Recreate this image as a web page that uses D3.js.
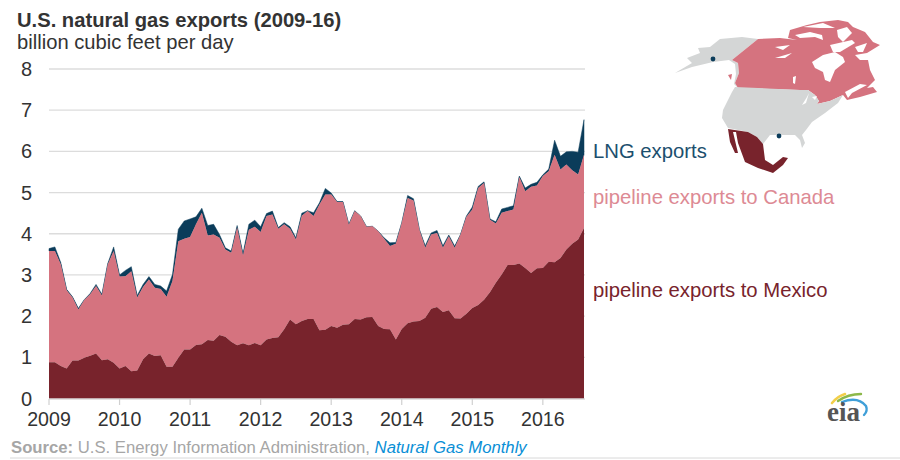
<!DOCTYPE html>
<html><head><meta charset="utf-8">
<script src="https://cdnjs.cloudflare.com/ajax/libs/d3/7.8.5/d3.min.js"></script>
<style>html,body{margin:0;padding:0;background:#fff}svg{display:block}text{font-family:"Liberation Sans",Arial,sans-serif}</style>
</head><body><svg id="c" width="900" height="460"></svg>
<script>
const yearLabels=["2009","2010","2011","2012","2013","2014","2015","2016"];
const yTicks=[0,1,2,3,4,5,6,7,8];
const mexico=[.88,.88,.79,.73,.92,.92,.99,1.04,1.09,.93,.95,.87,.73,.79,.66,.68,.95,1.09,1.03,1.05,.77,.77,.99,1.19,1.19,1.3,1.32,1.42,1.4,1.54,1.5,1.38,1.29,1.34,1.29,1.35,1.29,1.43,1.47,1.49,1.68,1.92,1.8,1.88,1.93,1.93,1.66,1.67,1.76,1.72,1.79,1.8,1.93,1.92,1.97,1.98,1.76,1.69,1.68,1.43,1.69,1.83,1.87,1.88,1.96,2.18,2.22,2.1,2.14,1.95,1.94,2.06,2.2,2.27,2.4,2.58,2.81,3.01,3.24,3.24,3.28,3.17,3.05,3.16,3.17,3.32,3.31,3.41,3.62,3.76,3.86,4.14];
const pipelineTotal=[3.58,3.58,3.26,2.63,2.45,2.16,2.39,2.53,2.73,2.5,3.26,3.58,2.96,2.97,3.09,2.45,2.71,2.89,2.69,2.66,2.47,2.85,3.82,3.88,3.92,4.23,4.51,3.96,3.98,3.9,3.62,3.54,4.15,3.47,4.1,4.17,4.04,4.43,4.47,4.12,4.23,4.12,3.86,4.44,4.55,4.43,4.71,4.95,4.95,4.77,4.77,4.22,4.55,4.43,4.17,4.18,4.06,3.88,3.7,3.76,4.26,4.87,4.81,4.1,3.66,3.98,4.02,3.66,3.94,3.66,3.98,4.41,4.59,5.11,5.23,4.34,4.25,4.51,4.55,4.59,5.38,5.03,5.14,5.17,5.4,5.52,5.92,5.56,5.68,5.54,5.44,5.92];
const totalExports=[3.64,3.68,3.3,2.65,2.47,2.19,2.4,2.55,2.77,2.53,3.28,3.68,3,3.11,3.2,2.5,2.77,2.96,2.77,2.73,2.61,3.01,4.11,4.31,4.36,4.41,4.62,4.2,4.23,3.98,3.66,3.58,4.2,3.52,4.23,4.33,4.17,4.49,4.55,4.15,4.27,4.17,3.9,4.5,4.56,4.51,4.75,5.1,4.99,4.78,4.78,4.23,4.56,4.43,4.17,4.18,4.06,3.9,3.78,3.79,4.26,4.93,4.85,4.1,3.71,4.02,4.08,3.71,3.97,3.7,3.98,4.43,4.65,5.15,5.26,4.36,4.29,4.6,4.64,4.68,5.4,5.11,5.2,5.25,5.43,5.57,6.27,5.88,5.99,6,5.98,6.77];

// locator map outlines, in the page's own map units
const mapAlaska=[[675,73],[692,63],[687,58],[700,53],[698,48],[710,47],[720,39],[742,37],[758,39],[732,60],[738,63],[739,73],[735,83],[738,88],[734,84],[736,74],[735,64],[729,60],[713,62],[692,67]];
const mapIsle=[[728,75],[732,74],[731,80]];
const mapCanada=[[758,39],[780,38],[797,40],[788,38],[790,30],[807,25],[820,22],[838,20],[848,22],[853,27],[865,32],[873,42],[880,45],[867,53],[855,55],[860,60],[868,60],[870,70],[875,80],[867,88],[873,87],[877,92],[860,97],[847,100],[843,95],[830,101],[817,104],[819,101],[815,95],[808,90],[800,90],[738,88],[735,83],[739,73],[738,63],[732,60]];
const mapUSA=[[735,87],[800,90],[808,90],[815,95],[819,101],[817,104],[830,101],[843,95],[838,103],[825,113],[812,122],[806,130],[802,135],[805,143],[802,148],[800,140],[795,135],[770,135],[763,144],[757,137],[748,132],[728,128],[722,118],[723,110],[732,92]];
const mapMexico=[[728,129],[748,132],[757,137],[763,144],[765,160],[773,165],[783,157],[788,158],[783,165],[773,173],[758,168],[745,162],[738,143],[736,132],[733,132],[738,153],[735,153],[730,142]];
const mapHoles=[
 [[812,62],[823,55],[835,52],[843,57],[845,62],[835,70],[830,82],[825,80],[823,72],[815,68]],
 [[795,35],[810,32],[822,35],[823,40],[815,37],[800,38]],
 [[803,27],[823,23],[835,28],[820,28]],
 [[837,30],[847,27],[852,33],[843,42],[838,37]],
 [[830,45],[852,40],[855,43],[840,52],[833,52]],
 [[855,47],[867,43],[863,52],[858,52]],
 [[793,77],[796,76],[795,84],[793,83]],
 [[775,47],[790,45],[783,50]],[[775,58],[792,53],[785,58]],
 [[845,92],[860,84],[867,85],[852,93],[848,98]],
 [[802,105],[807,97],[809,93],[806,103]],[[812,97],[817,96],[815,100]]
];
const mapHubs=[[713,59],[779,136]];

const svg=d3.select("#c");
const x=d3.scaleLinear().domain([0,91]).range([49,584]);
const y=d3.scaleLinear().domain([0,8]).range([398.5,69]);
const months=d3.range(mexico.length);

svg.append("g").selectAll("line").data(yTicks.slice(1)).join("line")
 .attr("x1",49).attr("x2",585).attr("y1",d=>y(d)).attr("y2",d=>y(d))
 .attr("stroke","#dcdcdc").attr("stroke-width",1.3);

const band=(lo,hi)=>d3.area().x(i=>x(i)).y0(i=>y(lo(i))).y1(i=>y(hi(i)));
svg.append("path").datum(months).attr("fill","#0b3c5a").attr("stroke","#0b3c5a").attr("stroke-width",.5)
 .attr("d",band(i=>pipelineTotal[i],i=>totalExports[i]));
svg.append("path").datum(months).attr("fill","#d5737f")
 .attr("d",band(i=>mexico[i],i=>pipelineTotal[i]));
svg.append("path").datum(months).attr("fill","#78232c")
 .attr("d",band(i=>0,i=>mexico[i]));

svg.append("line").attr("x1",49).attr("x2",585).attr("y1",399).attr("y2",399).attr("stroke","#c8c8c8");
svg.append("g").selectAll("line").data(yearLabels.map((_,k)=>k*12)).join("line")
 .attr("x1",d=>x(d)).attr("x2",d=>x(d)).attr("y1",399).attr("y2",405).attr("stroke","#d0d0d0").attr("stroke-width",1.2);
svg.append("g").selectAll("text").data(yearLabels).join("text")
 .attr("x",(d,k)=>x(k*12)).attr("y",426).attr("text-anchor","middle")
 .attr("font-size",19.6).attr("fill","#333").text(d=>d);
svg.append("g").selectAll("text").data(yTicks).join("text")
 .attr("x",32).attr("y",d=>y(d)+7).attr("text-anchor","end")
 .attr("font-size",20).attr("fill","#333").text(d=>d);

svg.append("text").attr("x",17).attr("y",27).attr("font-size",20.2).attr("font-weight","bold").attr("fill","#333").text("U.S. natural gas exports (2009-16)");
svg.append("text").attr("x",17).attr("y",49).attr("font-size",20.2).attr("fill","#333").text("billion cubic feet per day");

const labels=[["LNG exports",158,"#1c4f6e"],["pipeline exports to Canada",204,"#dd8a94"],["pipeline exports to Mexico",297,"#78232c"]];
svg.append("g").selectAll("text").data(labels).join("text")
 .attr("x",593).attr("y",d=>d[1]).attr("font-size",20.3).attr("fill",d=>d[2]).text(d=>d[0]);

const ring=d3.line().curve(d3.curveLinearClosed);
const map=svg.append("g").attr("stroke-linejoin","round");
[[mapAlaska,"#d4d6d6"],[mapIsle,"#d5737f"],[mapCanada,"#d5737f"],[mapUSA,"#d4d6d6"],[mapMexico,"#78232c"]].forEach(([p,f])=>map.append("path").attr("d",ring(p)).attr("fill",f));
map.selectAll("path.h").data(mapHoles).join("path").attr("class","h").attr("d",ring).attr("fill","#fff");
map.selectAll("circle").data(mapHubs).join("circle").attr("cx",d=>d[0]).attr("cy",d=>d[1]).attr("r",2.4).attr("fill","#0b3c5a");

const src=svg.append("text").attr("x",11).attr("y",453).attr("font-size",16.7).attr("fill","#a6a6a6");
src.append("tspan").attr("font-weight","bold").text("Source:");
src.append("tspan").text(" U.S. Energy Information Administration, ");
src.append("tspan").attr("font-style","italic").attr("fill","#0a8fd6").text("Natural Gas Monthly");
svg.append("line").attr("x1",10).attr("x2",900).attr("y1",458).attr("y2",458).attr("stroke","#d8d8d8");

const logo=svg.append("g").attr("fill","none").attr("stroke-linecap","round");
logo.append("path").attr("d","M832,403 Q838,396 845,394").attr("stroke","#f2cf4a").attr("stroke-width",2.6);
logo.append("path").attr("d","M838,401 Q848,394 861,394").attr("stroke","#8cb84a").attr("stroke-width",2.4);
logo.append("path").attr("d","M842,402 Q858,396 866,406 Q868,411 864,415").attr("stroke","#3f9fd8").attr("stroke-width",2.4);
svg.append("text").attr("x",827).attr("y",421).attr("font-size",27).attr("fill","#555").style("font-family","'Liberation Serif',serif").style("font-weight","bold").text("eia");
</script></body></html>
